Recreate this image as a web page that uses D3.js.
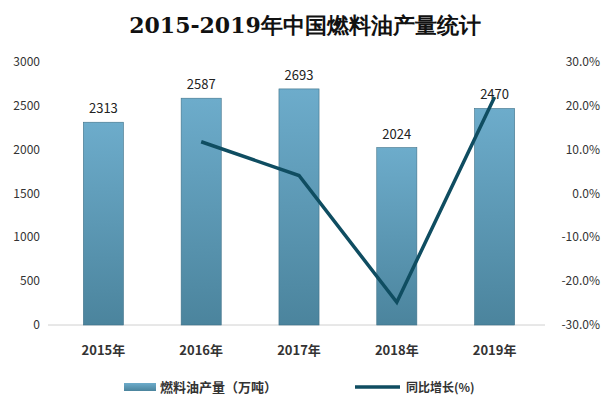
<!DOCTYPE html><html><head><meta charset="utf-8"><script src="https://cdn.jsdelivr.net/npm/d3@7"></script>
<style>body{margin:0;background:#fff}</style></head><body><svg id="c" width="610" height="405"></svg>
<script>
const years=["2015年","2016年","2017年","2018年","2019年"];
const output=[2313,2587,2693,2024,2470];
const growth=[null,11.8,4.1,-24.8,22.0];
const leftTicks=[0,500,1000,1500,2000,2500,3000];
const rightTicks=[-30,-20,-10,0,10,20,30];
const svg=d3.select("#c");
const x=d3.scaleBand().domain(years).range([54,544]).paddingInner(0.59).paddingOuter(0.3);
const y=d3.scaleLinear().domain([0,3000]).range([325,62]);
const y2=d3.scaleLinear().domain([-30,30]).range([325,62]);
const defs=svg.append("defs");
const g=defs.append("linearGradient").attr("id","bg").attr("x1",0).attr("y1",0).attr("x2",0).attr("y2",1);
g.append("stop").attr("offset","0%").attr("stop-color","#6daccb");
g.append("stop").attr("offset","100%").attr("stop-color","#4b849d");
svg.append("text").attr("x",305).attr("y",33).attr("text-anchor","middle").attr("font-family","DejaVu Serif, serif").attr("font-weight","bold").attr("font-size",22).attr("fill","#111").text("2015-2019年中国燃料油产量统计");
svg.append("line").attr("x1",48).attr("x2",545).attr("y1",325).attr("y2",325).attr("stroke","#d0d0d0");
const ff="Noto Sans CJK SC, sans-serif";
svg.selectAll(".lt").data(leftTicks).enter().append("text").attr("x",40).attr("y",d=>y(d)+4).attr("text-anchor","end").attr("font-family",ff).attr("font-size",12).attr("fill","#333").text(d=>d);
svg.selectAll(".rt").data(rightTicks).enter().append("text").attr("x",600).attr("y",d=>y2(d)+4).attr("text-anchor","end").attr("font-family",ff).attr("font-size",12).attr("fill","#333").text(d=>d.toFixed(1)+"%");
svg.selectAll(".b").data(output).enter().append("rect").attr("x",(d,i)=>x(years[i])).attr("width",x.bandwidth()).attr("y",d=>y(d)).attr("height",d=>325-y(d)).attr("fill","url(#bg)").attr("stroke","#3f7188").attr("stroke-width",0.6);
svg.selectAll(".bl").data(output).enter().append("text").attr("x",(d,i)=>x(years[i])+x.bandwidth()/2).attr("y",d=>y(d)-9).attr("text-anchor","middle").attr("font-family",ff).attr("font-size",13).attr("fill","#222").text(d=>d);
svg.selectAll(".xl").data(years).enter().append("text").attr("x",d=>x(d)+x.bandwidth()/2).attr("y",355).attr("text-anchor","middle").attr("font-family",ff).attr("font-weight","bold").attr("font-size",13).attr("fill","#333").text(d=>d);
const pts=growth.map((v,i)=>[years[i],v]).filter(d=>d[1]!=null);
svg.append("path").datum(pts).attr("d",d3.line().x(d=>x(d[0])+x.bandwidth()/2).y(d=>y2(d[1]))).attr("fill","none").attr("stroke","#0f4d61").attr("stroke-width",3.5);
svg.append("rect").attr("x",124).attr("y",383).attr("width",32).attr("height",8).attr("fill","url(#bg)");
svg.append("text").attr("x",160).attr("y",392).attr("font-family",ff).attr("font-weight","bold").attr("font-size",13).attr("fill","#333").text("燃料油产量（万吨）");
svg.append("line").attr("x1",355).attr("x2",400).attr("y1",387).attr("y2",387).attr("stroke","#0f4d61").attr("stroke-width",3.5);
svg.append("text").attr("x",406).attr("y",392).attr("font-family",ff).attr("font-weight","bold").attr("font-size",12).attr("fill","#333").text("同比增长(%)");
</script></body></html>
